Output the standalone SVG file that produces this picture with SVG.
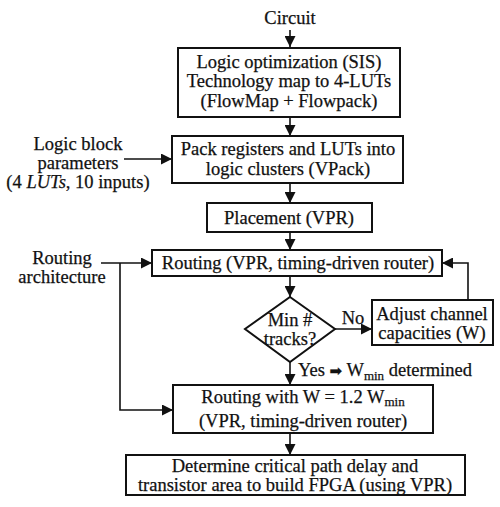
<svg xmlns="http://www.w3.org/2000/svg" width="500" height="507" viewBox="0 0 500 507">
<style>
  text { font-family: "Liberation Serif", "Times New Roman", serif; font-size: 18.5px; fill: #111; stroke: #111; stroke-width: 0.25; }
  .c { text-anchor: middle; }
  .box { fill: #fff; stroke: #111; stroke-width: 2; }
  .ln { fill: none; stroke: #111; stroke-width: 1.6; }
  .sub { font-size: 13px; }
</style>
<defs>
  <marker id="ah" viewBox="0 0 10 10" refX="10" refY="5" markerWidth="11" markerHeight="11" markerUnits="userSpaceOnUse" orient="auto">
    <path d="M0,0 L10,5 L0,10 z" fill="#111"/>
  </marker>
</defs>
<rect width="500" height="507" fill="#fff"/>

<g id="connectors">
  <line class="ln" x1="290" y1="30" x2="290" y2="47" marker-end="url(#ah)"/>
  <line class="ln" x1="290" y1="117" x2="290" y2="136" marker-end="url(#ah)"/>
  <line class="ln" x1="124" y1="159" x2="172" y2="159" marker-end="url(#ah)"/>
  <line class="ln" x1="290" y1="183" x2="290" y2="203" marker-end="url(#ah)"/>
  <line class="ln" x1="290" y1="232" x2="290" y2="250" marker-end="url(#ah)"/>
  <line class="ln" x1="101" y1="263" x2="152" y2="263" marker-end="url(#ah)"/>
  <polyline class="ln" points="120,263 120,410 173,410" marker-end="url(#ah)"/>
  <line class="ln" x1="290" y1="276" x2="290" y2="297" marker-end="url(#ah)"/>
  <line class="ln" x1="335" y1="329" x2="372" y2="329" marker-end="url(#ah)"/>
  <polyline class="ln" points="468,300 468,263 442,263" marker-end="url(#ah)"/>
  <line class="ln" x1="290" y1="362" x2="290" y2="385" marker-end="url(#ah)"/>
  <line class="ln" x1="290" y1="433" x2="290" y2="455" marker-end="url(#ah)"/>
</g>

<g id="circuit">
  <text class="c" x="290" y="24">Circuit</text>
</g>

<g id="logic-opt">
  <rect class="box" x="178" y="48" width="222" height="69"/>
  <text class="c" x="289" y="68">Logic optimization (SIS)</text>
  <text class="c" x="289" y="87">Technology map to 4-LUTs</text>
  <text class="c" x="289" y="107">(FlowMap + Flowpack)</text>
</g>

<g id="logic-block-params">
  <text class="c" x="78" y="150">Logic block</text>
  <text class="c" x="78" y="169">parameters</text>
  <text class="c" x="78" y="188">(4 <tspan font-style="italic">LUTs</tspan>, 10 inputs)</text>
</g>

<g id="pack">
  <rect class="box" x="172" y="136" width="231" height="47"/>
  <text class="c" x="288" y="155">Pack registers and LUTs into</text>
  <text class="c" x="288" y="175">logic clusters (VPack)</text>
</g>

<g id="placement">
  <rect class="box" x="207" y="203" width="165" height="29"/>
  <text class="c" x="289" y="224">Placement (VPR)</text>
</g>

<g id="routing-arch">
  <text class="c" x="62" y="264">Routing</text>
  <text class="c" x="62" y="283">architecture</text>
</g>

<g id="routing">
  <rect class="box" x="152" y="250" width="290" height="26"/>
  <text class="c" x="298" y="269">Routing (VPR, timing-driven router)</text>
</g>

<g id="decision">
  <polygon class="box" points="290,297 335,329 290,362 245,329"/>
  <text class="c" x="290" y="326">Min #</text>
  <text class="c" x="290" y="345">tracks?</text>
  <text class="c" x="353" y="324">No</text>
</g>

<g id="adjust">
  <rect class="box" x="372" y="300" width="121" height="45"/>
  <text class="c" x="432" y="320">Adjust channel</text>
  <text class="c" x="432" y="339">capacities (W)</text>
</g>

<g id="yes-label">
  <text x="298" y="376">Yes <tspan font-family="DejaVu Sans, sans-serif" font-size="15">➡</tspan> W<tspan class="sub" dy="4">min</tspan><tspan dy="-4"> determined</tspan></text>
</g>

<g id="routing-final">
  <rect class="box" x="173" y="385" width="260" height="48"/>
  <text class="c" x="303" y="403">Routing with W = 1.2 W<tspan class="sub" dy="3">min</tspan></text>
  <text class="c" x="303" y="427">(VPR, timing-driven router)</text>
</g>

<g id="determine">
  <rect class="box" x="126" y="455" width="339" height="40"/>
  <text class="c" x="295" y="472">Determine critical path delay and</text>
  <text class="c" x="295" y="491">transistor area to build FPGA (using VPR)</text>
</g>
</svg>
